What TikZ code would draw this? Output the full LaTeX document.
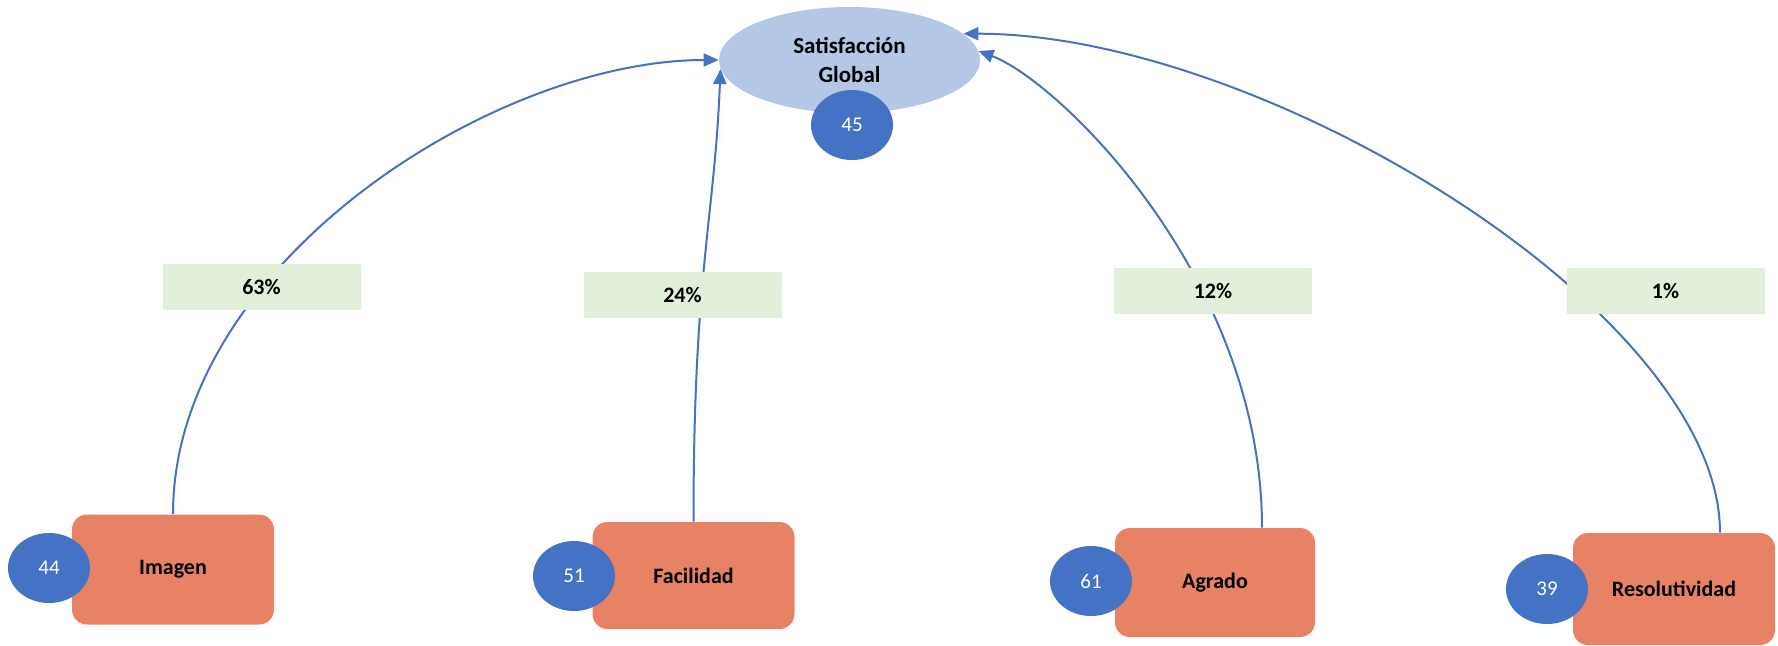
\documentclass[tikz,border=0pt]{standalone}
\usepackage{fontspec}
\setmainfont{Carlito}
\usetikzlibrary{arrows.meta,shapes.geometric}
\definecolor{factorfill}{HTML}{E88265}
\definecolor{globalfill}{HTML}{B4C7E7}
\definecolor{scorefill}{HTML}{4472C4}
\definecolor{weightfill}{HTML}{E2EFDA}
\begin{document}
\begin{tikzpicture}[x=0.5pt, y=-0.5pt,
            factor/.style={fill=factorfill, rounded corners=7.5pt, minimum width=101pt, minimum height=55pt,
                font=\fontsize{11}{13}\selectfont\bfseries, inner sep=0pt},
            global/.style={ellipse, fill=globalfill, minimum width=130.5pt, minimum height=53pt, inner sep=0pt,
                align=center, font=\fontsize{11.5}{14.5}\selectfont\bfseries},
            score/.style={ellipse, fill=scorefill, text=white, minimum width=41pt, minimum height=35pt,
                inner sep=0pt, font=\fontsize{10.5}{12}\selectfont},
            weight/.style={fill=weightfill, minimum width=99pt, minimum height=23pt, inner sep=0pt,
                font=\fontsize{11}{13}\selectfont\bfseries},
            link/.style={draw=scorefill, line width=1pt, -{Triangle[width=6.5pt,length=7.5pt]}},
        ]
        \useasboundingbox (0,0) rectangle (1778,645);

        \node[global] (glob) at (849.5,60) {Satisfacción\\Global};

        \node[factor] (imagen) at (173,569.5) {Imagen};
        \node[factor, minimum height=53.5pt] (facil) at (693.5,575.5) {Facilidad};
        \node[factor, minimum width=100pt, minimum height=54.5pt] (agrado) at (1215,582.5) {Agrado};
        \node[factor, minimum height=56pt] (resol) at (1674,589) {Resolutividad};

        % paths from each factor to the global node
        \draw[link] (imagen.north) .. controls +(0,-250) and +(-225,0) .. (glob.west);
        \draw[link] (facil.north) .. controls +(0,-250) and +(-6,150) .. (glob.184);
        \draw[link] ([xshift=23.5pt]agrado.north) .. controls +(0,-250) and +(80,30) .. (glob.4);
        \draw[link] ([xshift=23pt]resol.north) .. controls +(0,-220) and +(300,0) .. (glob.13);

        \node[weight] (w63) at (261.5,286.5) {63\%};
        \node[weight] (w24) at (682.5,295) {24\%};
        \node[weight] (w12) at (1213,291) {12\%};
        \node[weight] (w1) at (1665.5,291) {1\%};

        \node[score] (s45) at (852,125) {45};
        \node[score] (s44) at (49,568) {44};
        \node[score] (s51) at (574,576) {51};
        \node[score] (s61) at (1091,581) {61};
        \node[score] (s39) at (1547,589) {39};
    \end{tikzpicture}
\end{document}
